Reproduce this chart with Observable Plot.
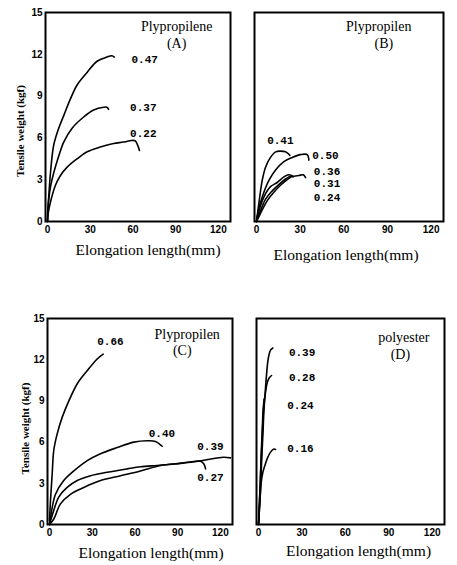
<!DOCTYPE html>
<html>
<head>
<meta charset="utf-8">
<script src="https://cdn.jsdelivr.net/npm/d3@7"></script>
<script src="https://cdn.jsdelivr.net/npm/@observablehq/plot@0.6"></script>
<style>
  html, body { margin: 0; padding: 0; background: #ffffff; }
  #wrap { position: relative; width: 457px; height: 565px; overflow: hidden; background: #ffffff; }
  #wrap > svg { position: absolute; }
</style>
</head>
<body>
<div id="wrap"></div>
<script>
// ---------- shared axis data ----------
const xTicks = [0, 30, 60, 90, 120];
const yTicks = [0, 3, 6, 9, 12, 15];
const xTitle = "Elongation length(mm)";
const yTitle = "Tensile weight (kgf)";

// ---------- Panel A : Plypropilene (A) ----------
const aTitle = ["Plypropilene", "(A)"];
const aTitleX = [90.7, 90.7];
const aTitleY = [14.0, 12.8];
const a047x = [0, 0.2, 0.9, 2.1, 4.4, 7.9, 11.4, 16.1, 20.8, 27.8, 34.8, 41.7, 45.2, 46.9];
const a047y = [0, 0.8, 1.8, 3.5, 5.5, 6.7, 7.6, 8.8, 9.8, 10.7, 11.5, 11.8, 11.9, 11.8];
const a037x = [0, 0.3, 0.9, 2.3, 4.4, 7.9, 11.4, 17.3, 25.4, 32.4, 39.4, 41.7, 42.9];
const a037y = [0, 0.7, 1.6, 2.6, 3.5, 4.7, 5.7, 6.7, 7.5, 8.0, 8.2, 8.2, 8.05];
const a022x = [0, 0.5, 2.1, 5.6, 9.1, 13.8, 20.8, 27.8, 37.1, 46.4, 53.4, 58.0, 61.5, 63.2, 64.6];
const a022y = [0, 0.6, 1.4, 2.6, 3.3, 3.9, 4.5, 5.0, 5.35, 5.6, 5.7, 5.8, 5.8, 5.5, 5.1];
const aLabelText = ["0.47", "0.37", "0.22"];
const aLabelX = [59, 58, 58];
const aLabelY = [11.6, 8.2, 6.3];

// ---------- Panel B : Plypropilen (B) ----------
const bTitle = ["Plypropilen", "(B)"];
const bTitleX = [84, 87.5];
const bTitleY = [14.0, 12.8];
const b041x = [0, 1.6, 3.9, 6.2, 9.6, 13.1, 16.5, 19.9, 22.9];
const b041y = [0, 1.3, 2.95, 3.9, 4.6, 5.0, 5.05, 5.0, 4.75];
const b050x = [0, 0.5, 3.9, 8.5, 13.1, 18.8, 24.5, 30.2, 34.8, 36.0];
const b050y = [0, 0.4, 1.75, 2.95, 3.7, 4.3, 4.6, 4.8, 4.8, 4.4];
const b036x = [0, 0.5, 5.0, 9.6, 14.2, 18.8, 22.2, 25.6, 29.1, 32.1, 33.7];
const b036y = [0, 0.3, 1.75, 2.5, 2.8, 3.2, 3.35, 3.25, 3.3, 3.35, 3.15];
const b031x = [0, 0.9, 6.2, 10.8, 15.3, 19.9, 23.4, 25.2];
const b031y = [0, 0.25, 1.6, 2.2, 2.65, 3.05, 3.25, 3.2];
const b024x = [0, 0.9, 7.4, 11.9, 16.5, 21.1, 23.8];
const b024y = [0, 0.2, 1.5, 2.1, 2.6, 3.0, 3.2];
const bLabelText = ["0.41", "0.50", "0.36", "0.31", "0.24"];
const bLabelX = [7.3, 38.3, 39.4, 39.4, 39.4];
const bLabelY = [5.8, 4.75, 3.6, 2.7, 1.75];

// ---------- Panel C : Plypropilen (C) ----------
const cTitle = ["Plypropilen", "(C)"];
const cTitleX = [96.7, 93.2];
const cTitleY = [13.8, 12.7];
const c066x = [0, 0.7, 1.9, 3.0, 5.4, 8.9, 13.6, 19.5, 26.5, 33.5, 37.7];
const c066y = [0.3, 1.75, 3.7, 5.4, 6.6, 7.8, 9.0, 10.25, 11.2, 12.05, 12.4];
const c040x = [0, 0.7, 4.2, 10.0, 17.1, 26.5, 35.8, 47.5, 59.2, 68.6, 74.4, 79.1];
const c040y = [0, 0.5, 2.2, 3.2, 3.9, 4.65, 5.15, 5.6, 6.0, 6.1, 6.05, 5.7];
const c027x = [0, 1.9, 6.5, 12.4, 19.5, 28.8, 40.5, 54.6, 63.9, 75.6, 87.3, 99.0, 106.0, 108.4, 109.6];
const c027y = [0, 0.65, 2.0, 2.7, 3.2, 3.55, 3.8, 4.05, 4.2, 4.3, 4.4, 4.55, 4.6, 4.4, 4.05];
const c039x = [0, 3.0, 7.7, 14.7, 24.1, 35.8, 49.9, 63.9, 78.0, 92.0, 103.7, 115.4, 122.4, 127.1];
const c039y = [0, 0.4, 1.5, 2.2, 2.7, 3.2, 3.55, 3.9, 4.3, 4.45, 4.6, 4.8, 4.9, 4.85];
const cLabelText = ["0.66", "0.40", "0.39", "0.27"];
const cLabelX = [33.5, 69.7, 103.7, 103.7];
const cLabelY = [13.3, 6.65, 5.7, 3.4];

// ---------- Panel D : polyester (D) ----------
const dTitle = ["polyester", "(D)"];
const dTitleX = [100.4, 98];
const dTitleY = [13.6, 12.4];
const d039x = [0, 1.4, 2.1, 3.0, 3.7, 4.6, 5.3, 6.7, 8.3, 9.9];
const d039y = [0, 2.6, 4.5, 6.5, 8.2, 9.6, 10.6, 12.07, 12.7, 12.85];
const d028x = [0, 1.6, 2.6, 3.5, 4.8, 6.2, 7.6, 9.0];
const d028y = [0, 4.06, 6.5, 8.4, 9.6, 10.4, 10.7, 10.85];
const d024x = [0, 1.2, 1.9, 2.6, 3.2, 3.9];
const d024y = [0, 3.1, 5.27, 6.97, 8.4, 9.15];
const d016x = [0, 0.9, 1.9, 3.0, 4.4, 6.0, 8.3, 10.6, 11.7];
const d016y = [0, 1.6, 3.1, 3.8, 4.3, 4.8, 5.27, 5.5, 5.46];
const dLabelText = ["0.39", "0.28", "0.24", "0.16"];
const dLabelX = [21, 21, 19.8, 19.8];
const dLabelY = [12.5, 10.7, 8.67, 5.56];

// ---------- helpers ----------
function rowsOf(name, xs, ys) { return xs.map((x, i) => ({id: name, x, y: ys[i]})); }
function pts(texts, xs, ys) { return texts.map((t, i) => ({t, x: xs[i], y: ys[i]})); }

const panels = [
  {left: 0, top: 0, width: 234, height: 268, mt: 12, mb: 47, ml: 45, mr: 4, showY: true,
   curves: [rowsOf("0.47", a047x, a047y), rowsOf("0.37", a037x, a037y), rowsOf("0.22", a022x, a022y)],
   labels: pts(aLabelText, aLabelX, aLabelY), titles: pts(aTitle, aTitleX, aTitleY),
   xdx: 10, xdy: 29, ydx: -25, ydy: 14},
  {left: 234, top: 0, width: 223, height: 268, mt: 12, mb: 47, ml: 20, mr: 14, showY: false,
   curves: [rowsOf("0.41", b041x, b041y), rowsOf("0.50", b050x, b050y), rowsOf("0.36", b036x, b036y),
            rowsOf("0.31", b031x, b031y), rowsOf("0.24", b024x, b024y)],
   labels: pts(bLabelText, bLabelX, bLabelY), titles: pts(bTitle, bTitleX, bTitleY),
   xdx: -3, xdy: 34},
  {left: 0, top: 300, width: 236, height: 265, mt: 18, mb: 41, ml: 47, mr: 4, showY: true,
   curves: [rowsOf("0.66", c066x, c066y), rowsOf("0.40", c040x, c040y), rowsOf("0.27", c027x, c027y),
            rowsOf("0.39", c039x, c039y)],
   labels: pts(cLabelText, cLabelX, cLabelY), titles: pts(cTitle, cTitleX, cTitleY),
   xdx: 11, xdy: 29, ydx: -22, ydy: 7},
  {left: 236, top: 300, width: 221, height: 265, mt: 18, mb: 41, ml: 20, mr: 13, showY: false,
   curves: [rowsOf("0.39", d039x, d039y), rowsOf("0.28", d028x, d028y), rowsOf("0.24", d024x, d024y),
            rowsOf("0.16", d016x, d016y)],
   labels: pts(dLabelText, dLabelX, dLabelY), titles: pts(dTitle, dTitleX, dTitleY),
   xdx: 8, xdy: 27}
];

const wrap = document.getElementById("wrap");
for (const p of panels) {
  const marks = [
    Plot.frame({stroke: "#000", strokeWidth: 2}),
    ...p.curves.map(c => Plot.line(c, {x: "x", y: "y", stroke: "#000", strokeWidth: 1.6, curve: "catmull-rom"})),
    Plot.text(p.labels, {x: "x", y: "y", text: "t", textAnchor: "start", lineAnchor: "middle",
      fontFamily: "Liberation Mono", fontWeight: "bold", fontSize: 11, fill: "#000"}),
    Plot.text(p.titles, {x: "x", y: "y", text: "t", textAnchor: "middle", lineAnchor: "middle",
      fontFamily: "Liberation Serif", fontWeight: "normal", fontSize: 14, fill: "#000"}),
    Plot.text([xTitle], {text: d => d, frameAnchor: "bottom", textAnchor: "middle", lineAnchor: "middle",
      dx: p.xdx, dy: p.xdy, fontFamily: "Liberation Serif", fontWeight: "normal", fontSize: 15.5, fill: "#000"})
  ];
  if (p.showY) {
    marks.push(Plot.text([yTitle], {text: d => d, frameAnchor: "left", textAnchor: "middle", lineAnchor: "middle",
      rotate: -90, dx: p.ydx, dy: p.ydy,
      fontFamily: "Liberation Serif", fontWeight: "bold", fontSize: 11, fill: "#000"}));
  }
  const svg = Plot.plot({
    width: p.width, height: p.height,
    marginTop: p.mt, marginBottom: p.mb, marginLeft: p.ml, marginRight: p.mr,
    x: {domain: [-1.4, 128.5], ticks: xTicks, tickSize: 0, tickPadding: 4, label: null},
    y: {domain: [0, 15], ticks: yTicks, tickSize: 0, tickPadding: 3, label: null, axis: p.showY ? "left" : null},
    style: {fontFamily: "Liberation Sans", fontWeight: "bold", fontSize: "10px", color: "#000",
      background: "transparent", overflow: "visible"},
    marks
  });
  svg.style.left = p.left + "px";
  svg.style.top = p.top + "px";
  wrap.appendChild(svg);
}
</script>
</body>
</html>
